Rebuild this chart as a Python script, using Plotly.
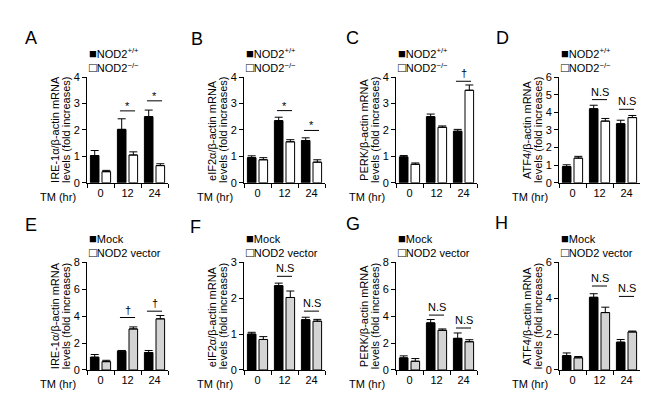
import plotly.graph_objects as go

# ---------------- data ----------------
times = ["0", "12", "24"]
panel_letters = ["A", "B", "C", "D", "E", "F", "G", "H"]
genes = ["IRE-1α", "eIF2α", "PERK", "ATF4", "IRE-1α", "eIF2α", "PERK", "ATF4"]
top_series = ["NOD2<sup>+/+</sup>", "NOD2<sup>−/−</sup>"]
bottom_series = ["Mock", "NOD2 vector"]
y_max = [4, 4, 4, 6, 8, 3, 8, 6]
y_dtick = [1, 1, 1, 1, 2, 1, 2, 2]

A_s1 = [1.03, 2.02, 2.50]; A_s1_err = [0.19, 0.40, 0.25]
A_s2 = [0.42, 1.05, 0.65]; A_s2_err = [0.05, 0.12, 0.07]
B_s1 = [0.95, 2.35, 1.60]; B_s1_err = [0.07, 0.13, 0.10]
B_s2 = [0.87, 1.55, 0.78]; B_s2_err = [0.08, 0.08, 0.09]
C_s1 = [0.98, 2.50, 1.95]; C_s1_err = [0.05, 0.10, 0.07]
C_s2 = [0.70, 2.10, 3.50]; C_s2_err = [0.05, 0.05, 0.20]
D_s1 = [0.92, 4.20, 3.35]; D_s1_err = [0.10, 0.20, 0.20]
D_s2 = [1.40, 3.50, 3.70]; D_s2_err = [0.10, 0.15, 0.12]
E_s1 = [0.95, 1.40, 1.30]; E_s1_err = [0.20, 0.05, 0.15]
E_s2 = [0.62, 3.05, 3.80]; E_s2_err = [0.10, 0.15, 0.25]
F_s1 = [1.00, 2.35, 1.40]; F_s1_err = [0.05, 0.07, 0.07]
F_s2 = [0.85, 2.02, 1.36]; F_s2_err = [0.08, 0.18, 0.05]
G_s1 = [0.90, 3.50, 2.35]; G_s1_err = [0.15, 0.25, 0.40]
G_s2 = [0.65, 2.95, 2.10]; G_s2_err = [0.20, 0.10, 0.15]
H_s1 = [0.80, 4.05, 1.55]; H_s1_err = [0.15, 0.20, 0.15]
H_s2 = [0.68, 3.20, 2.12]; H_s2_err = [0.07, 0.30, 0.05]

A_sig = ["", "*", "*"];        A_sig_y = [None, 2.72, 3.10]
B_sig = ["", "*", "*"];        B_sig_y = [None, 2.73, 1.98]
C_sig = ["", "", "†"];         C_sig_y = [None, None, 3.84]
D_sig = ["", "N.S", "N.S"];    D_sig_y = [None, 4.72, 4.17]
E_sig = ["", "†", "†"];        E_sig_y = [None, 3.90, 4.37]
F_sig = ["", "N.S", "N.S"];    F_sig_y = [None, 2.61, 1.64]
G_sig = ["", "N.S", "N.S"];    G_sig_y = [None, 4.08, 3.12]
H_sig = ["", "N.S", "N.S"];    H_sig_y = [None, 4.68, 4.10]

s1_vals = [A_s1, B_s1, C_s1, D_s1, E_s1, F_s1, G_s1, H_s1]
s1_errs = [A_s1_err, B_s1_err, C_s1_err, D_s1_err, E_s1_err, F_s1_err, G_s1_err, H_s1_err]
s2_vals = [A_s2, B_s2, C_s2, D_s2, E_s2, F_s2, G_s2, H_s2]
s2_errs = [A_s2_err, B_s2_err, C_s2_err, D_s2_err, E_s2_err, F_s2_err, G_s2_err, H_s2_err]
sigs = [A_sig, B_sig, C_sig, D_sig, E_sig, F_sig, G_sig, H_sig]
sig_ys = [A_sig_y, B_sig_y, C_sig_y, D_sig_y, E_sig_y, F_sig_y, G_sig_y, H_sig_y]

# ---------------- layout geometry (pixels) ----------------
W, H = 653, 400
col_x = [79, 236, 388, 551]
plot_w = 81
row_bottom = [174, 367]
row_top = [65, 256]
letter_pos = [(15, 25), (181, 26), (336, 25), (486, 25),
              (15, 218), (180, 220), (336, 217), (485, 215)]
FONT = "Liberation Sans, Arial, sans-serif"

def px(x):
    return x / W

def py(y):
    return 1 - y / H

fig = go.Figure()
annotations = []
shapes = []

for i in range(8):
    r, c = divmod(i, 4)
    n = "" if i == 0 else str(i + 1)
    xa, ya = "x" + n, "y" + n
    names = top_series if r == 0 else bottom_series
    s2_color = "white" if r == 0 else "#d4d4d4"

    fig.add_trace(go.Bar(
        x=times, y=s1_vals[i], name=names[0], xaxis=xa, yaxis=ya,
        marker=dict(color="black", line=dict(color="black", width=1)),
        error_y=dict(type="data", array=s1_errs[i], arrayminus=[0, 0, 0], symmetric=False,
                     color="black", thickness=1, width=4),
        offsetgroup="1", showlegend=False))
    fig.add_trace(go.Bar(
        x=times, y=s2_vals[i], name=names[1], xaxis=xa, yaxis=ya,
        marker=dict(color=s2_color, line=dict(color="black", width=1)),
        error_y=dict(type="data", array=s2_errs[i], arrayminus=[0, 0, 0], symmetric=False,
                     color="black", thickness=1, width=4),
        offsetgroup="2", showlegend=False))

    x0 = col_x[c]
    fig.update_layout(**{
        "xaxis" + n: dict(domain=[px(x0), px(x0 + plot_w)], anchor=ya, type="category",
                          categoryorder="array", categoryarray=times,
                          showline=True, linecolor="black", linewidth=1,
                          ticks="outside", ticklen=4, tickcolor="black", tickson="boundaries",
                          tickfont=dict(size=11, color="black", family=FONT),
                          showgrid=False, zeroline=False, fixedrange=True),
        "yaxis" + n: dict(domain=[py(row_bottom[r]), py(row_top[r])], anchor=xa,
                          range=[0, y_max[i]], dtick=y_dtick[i],
                          showline=True, linecolor="black", linewidth=1,
                          ticks="outside", ticklen=4, tickcolor="black",
                          tickfont=dict(size=11, color="black", family=FONT),
                          showgrid=False, zeroline=False, fixedrange=True),
    })

    dx = xa + " domain"
    dy = ya + " domain"
    # panel letter
    lx, ly = letter_pos[i]
    annotations.append(dict(text=panel_letters[i], xref="paper", yref="paper",
                            x=px(lx), y=py(ly), xanchor="left", yanchor="middle",
                            showarrow=False, font=dict(size=18, color="black", family=FONT)))
    # legend (square swatch glyph + series name), two rows in one text block
    glyphs = ["■", "□"]
    rows = ['<span style="font-size:13px">' + glyphs[k] + '</span>' + names[k] for k in range(2)]
    annotations.append(dict(text="<br>".join(rows), xref=dx, yref=dy,
                            x=0, y=1, xshift=0, yshift=17, align="left",
                            xanchor="left", yanchor="middle", showarrow=False,
                            font=dict(size=11, color="black", family=FONT)))
    # y-axis title (two lines)
    ytitle = [genes[i] + "/β-actin mRNA", "levels (fold increases)"]
    for k in range(2):
        annotations.append(dict(text=ytitle[k], xref=dx, yref=dy, x=0, y=0.5,
                                xshift=-32 + 11 * k, textangle=-90,
                                xanchor="center", yanchor="middle", showarrow=False,
                                font=dict(size=11, color="black", family=FONT)))
    # TM (hr)
    annotations.append(dict(text="TM (hr)", xref=dx, yref=dy, x=0, y=0,
                            xshift=-9, yshift=-14, xanchor="right", yanchor="middle",
                            showarrow=False, font=dict(size=11, color="black", family=FONT)))
    # significance
    for j in range(3):
        if sigs[i][j]:
            yv = sig_ys[i][j]
            shapes.append(dict(type="line", xref=xa, yref=ya, x0=j - 0.28, x1=j + 0.28,
                               y0=yv, y1=yv, line=dict(color="black", width=1)))
            annotations.append(dict(text=sigs[i][j], xref=xa, yref=ya, x=j, y=yv,
                                    yshift=(-3 if sigs[i][j] == "*" else 0),
                                    xanchor="center", yanchor="bottom", showarrow=False,
                                    font=dict(size=11, color="black", family=FONT)))

fig.update_layout(
    width=W, height=H, margin=dict(l=0, r=0, t=0, b=0),
    paper_bgcolor="white", plot_bgcolor="white",
    barmode="group", bargap=0.14, bargroupgap=0.26,
    showlegend=False,
    annotations=annotations, shapes=shapes,
    font=dict(family=FONT, color="black", size=11),
)

fig.write_html("out.html")
